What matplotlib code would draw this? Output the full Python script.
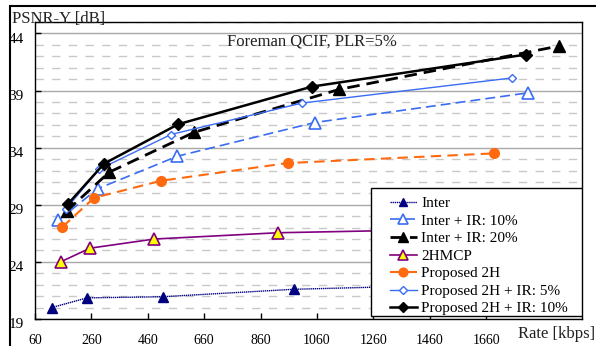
import matplotlib
matplotlib.use('Agg')
import matplotlib.pyplot as plt
from matplotlib.patches import Rectangle
from matplotlib.transforms import ScaledTranslation

plt.rcParams['font.family'] = ['Liberation Serif', 'DejaVu Serif']

# rate [kbps] / PSNR-Y [dB]
inter_x = [119, 245, 513, 977, 1750]
inter_y = [20.0, 20.85, 20.95, 21.6, 22.1]

ir10_x = [143, 282, 565, 1052, 1809]
ir10_y = [27.65, 30.4, 33.25, 36.2, 38.8]

ir20_x = [172, 323, 625, 1139, 1919]
ir20_y = [28.45, 31.85, 35.35, 39.1, 42.9]

hmcp_x = [151, 255, 483, 921, 1750]
hmcp_y = [24.0, 25.2, 26.0, 26.55, 26.95]

p2h_x = [157, 269, 507, 956, 1689]
p2h_y = [27.05, 29.6, 31.1, 32.65, 33.5]

p2h5_x = [169, 287, 542, 1006, 1751]
p2h5_y = [28.6, 32.1, 35.15, 37.9, 40.1]

p2h10_x = [178, 305, 568, 1043, 1801]
p2h10_y = [29.1, 32.6, 36.05, 39.35, 42.15]

x_ticks = [60, 260, 460, 660, 860, 1060, 1260, 1460, 1660]
y_ticks = [19, 24, 29, 34, 39, 44]

fig = plt.figure(figsize=(5.96, 3.46), dpi=100)
ax = fig.add_axes([35/596, 27/346, 547/596, 297/346])

ax.plot(inter_x, inter_y, color='#000080', lw=1.0, ls=(0, (1, 0.5)),
        marker='^', ms=7, mfc='#000080', mec='#000080', label='Inter', zorder=3)
ax.plot(ir10_x, ir10_y, color='#3a6cf4', lw=1.2, ls=(0, (6, 3)),
        marker='^', ms=8, mfc='white', mec='#3a6cf4', mew=1.2,
        label='Inter + IR: 10%', zorder=3)
ax.plot(ir20_x, ir20_y, color='black', lw=2.0, ls=(0, (4.5, 2.5)),
        marker='^', ms=8, mfc='black', mec='black', label='Inter + IR: 20%', zorder=3)
ax.plot(hmcp_x, hmcp_y, color='#800080', lw=1.2, ls='-',
        marker='^', ms=8, mfc='#ffff00', mec='#800080', mew=1.2,
        label='2HMCP', zorder=3)
ax.plot(p2h_x, p2h_y, color='#ff6a10', lw=1.5, ls=(0, (5, 3)),
        marker='o', ms=7, mfc='#ff6a10', mec='#ff6a10', label='Proposed 2H', zorder=3)
ax.plot(p2h5_x, p2h5_y, color='#3a6cf4', lw=1.0, ls='-',
        marker='D', ms=4, mfc='white', mec='#3a6cf4', mew=1.0,
        label='Proposed 2H + IR: 5%', zorder=3)
ax.plot(p2h10_x, p2h10_y, color='black', lw=1.8, ls='-',
        marker='D', ms=6, mfc='black', mec='black',
        label='Proposed 2H + IR: 10%', zorder=3)

ax.set_xlim(60, 2000)
ax.set_ylim(19, 45)
ax.set_xticks(x_ticks)
ax.set_yticks(y_ticks)
ax.set_yticks(range(19, 46), minor=True)
ax.tick_params(axis='both', which='major', direction='in', length=4, width=1)
ax.tick_params(axis='y', which='minor', length=0)
ax.tick_params(axis='x', labelsize=10, pad=11)
ax.tick_params(axis='y', labelsize=11, pad=8)
for lab in ax.get_yticklabels():
    lab.set_transform(lab.get_transform() + ScaledTranslation(0, -3/72, fig.dpi_scale_trans))

ax.grid(axis='y', which='major', color='#a8a8a8', lw=1.0, ls='-', zorder=1)
ax.grid(axis='y', which='minor', color='#c8c8c8', lw=1.0, ls=(0, (6, 6)), zorder=1)
ax.set_axisbelow(True)
for s in ax.spines.values():
    s.set_color('black')
    s.set_linewidth(1.0)

ax.text(0.507, 0.933, 'Foreman QCIF, PLR=5%', transform=ax.transAxes,
        ha='center', va='center', fontsize=12, color='#222222')

# legend box
ax.add_patch(Rectangle((0.614, 0.011), 0.386, 0.43, transform=ax.transAxes,
                       facecolor='white', edgecolor='black', lw=1.0, zorder=5))
leg = ax.legend(loc='lower left', bbox_to_anchor=(0.626, -0.029), frameon=False,
                fontsize=11, handlelength=1.8, handletextpad=0.25,
                labelspacing=0.25, borderpad=0.3, markerscale=0.9)
leg.set_zorder(6)

fig.text(12/596, 1 - 19/346, 'PSNR-Y [dB]', ha='left', va='center', fontsize=12, color='#222222')
fig.text(595/596, 1 - 334/346, 'Rate [kbps]', ha='right', va='center', fontsize=12, color='#222222')

fig.patches.append(Rectangle((10/596, -0.1), 1.0, 1.1 - 6/346, transform=fig.transFigure,
                             facecolor='none', edgecolor='black', lw=1.5))

fig.savefig('out.png', dpi=100)
